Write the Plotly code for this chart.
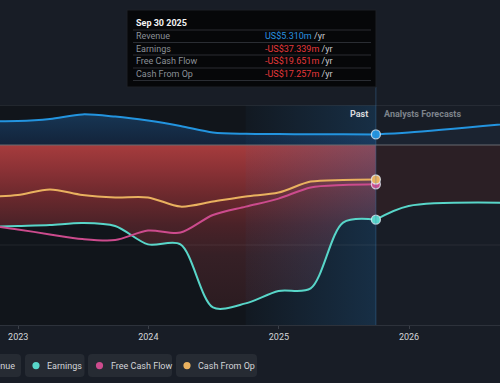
import plotly.graph_objects as go

# ---------------- data (US$ m) ----------------
dates_hist = ['2022-09-30', '2022-12-31', '2023-03-31', '2023-06-30', '2023-09-30',
              '2023-12-31', '2024-03-31', '2024-06-30', '2024-09-30', '2024-12-31',
              '2025-03-31', '2025-06-30', '2025-09-30']
revenue = [12.0, 12.0, 13.0, 15.3, 14.2, 12.2, 9.5, 6.3, 5.6, 5.45, 5.4, 5.35, 5.31]
earnings = [-41.0, -40.5, -40.0, -39.0, -40.5, -49.7, -49.7, -81.2, -79.2, -73.0, -71.7, -38.8, -37.339]
free_cash_flow = [-40.0, -42.2, -44.7, -47.0, -47.5, -42.8, -43.8, -35.0, -30.8, -26.8, -21.2, -20.0, -19.651]
cash_from_op = [-26.0, -25.0, -22.2, -25.0, -26.2, -26.2, -30.8, -28.3, -25.7, -23.8, -18.3, -17.5, -17.257]

dates_fc = ['2025-09-30', '2025-12-31', '2026-12-31']
revenue_fc = [5.31, 6.2, 12.0]
earnings_fc = [-37.339, -30.5, -29.2]

series_names = ['Revenue', 'Earnings', 'Free Cash Flow', 'Cash From Op']
tick_vals = ['2023-01-01', '2024-01-01', '2025-01-01', '2026-01-01']
tick_text = ['2023', '2024', '2025', '2026']
tooltip_title = 'Sep 30 2025'
past_start = '2024-09-30'
past_end = '2025-09-30'

# ---------------- style ----------------
BG = '#181d26'
PAST_BG = '#11151b'
C_REV = '#2394df'
C_EARN = '#58d6c9'
C_FCF = '#cc4b8d'
C_CFO = '#e9b15f'
colors = [C_REV, C_EARN, C_FCF, C_CFO]
FONT = 'Roboto'
Y_MIN, Y_MAX = -90, 20
X_RANGE = ['2022-11-11', '2026-09-13']

W, H = 500, 383
ML, MR, MT, MB = 0, 0, 105, 58
PH = H - MT - MB


def px(x):
    return x / (W - ML - MR)


def py(y):
    return (H - MB - y) / PH


def rrect(x0, y0, x1, y1, r):
    rx, ry = r / W, r / PH
    a, b, c, d = px(x0), py(y1), px(x1), py(y0)  # left, bottom, right, top
    return (f"M {a+rx},{b} L {c-rx},{b} Q {c},{b} {c},{b+ry} L {c},{d-ry} Q {c},{d} {c-rx},{d} "
            f"L {a+rx},{d} Q {a},{d} {a},{d-ry} L {a},{b+ry} Q {a},{b} {a+rx},{b} Z")


fig = go.Figure()
SM = 0.85

# revenue fills
fig.add_trace(go.Scatter(x=dates_hist, y=revenue, mode='lines', line=dict(width=0, shape='spline', smoothing=SM),
                         fill='tozeroy',
                         fillgradient=dict(type='vertical', start=0, stop=15.5,
                                           colorscale=[[0, '#13233a'], [1, '#173654']]),
                         hoverinfo='skip', showlegend=False))
fig.add_trace(go.Scatter(x=dates_fc, y=revenue_fc, mode='lines', line=dict(width=0, shape='spline', smoothing=SM),
                         fill='tozeroy', fillcolor='#1b2330', hoverinfo='skip', showlegend=False))
# earnings (negative) fills
fig.add_trace(go.Scatter(x=dates_hist, y=earnings, mode='lines', line=dict(width=0, shape='spline', smoothing=SM),
                         fill='tozeroy',
                         fillgradient=dict(type='vertical', start=-85, stop=0,
                                           colorscale=[[0, '#2a1b20'], [0.35, '#362026'], [0.53, '#4a2228'],
                                                       [0.706, '#6c292d'], [0.86, '#8c3236'], [1, '#a63c3d']]),
                         hoverinfo='skip', showlegend=False))
fig.add_trace(go.Scatter(x=dates_fc, y=earnings_fc, mode='lines', line=dict(width=0, shape='spline', smoothing=SM),
                         fill='tozeroy', fillcolor='#2b1f25', hoverinfo='skip', showlegend=False))
# past-year highlight overlay
fig.add_trace(go.Scatter(x=[past_start, past_end, past_end, past_start, past_start],
                         y=[Y_MIN, Y_MIN, Y_MAX, Y_MAX, Y_MIN], mode='lines', line=dict(width=0),
                         fill='toself',
                         fillgradient=dict(type='horizontal',
                                           colorscale=[[0, 'rgba(40,120,190,0.04)'], [1, 'rgba(40,120,190,0.26)']]),
                         hoverinfo='skip', showlegend=False))

# lines
hist_vals = [revenue, earnings, free_cash_flow, cash_from_op]
for name, vals, col in zip(series_names, hist_vals, colors):
    fig.add_trace(go.Scatter(x=dates_hist, y=vals, mode='lines', name=name,
                             line=dict(color=col, width=2, shape='spline', smoothing=SM),
                             hoverinfo='skip', showlegend=False))
for vals, col in [(revenue_fc, C_REV), (earnings_fc, C_EARN)]:
    fig.add_trace(go.Scatter(x=dates_fc, y=vals, mode='lines',
                             line=dict(color=col, width=2, shape='spline', smoothing=SM),
                             hoverinfo='skip', showlegend=False))
# end markers
fig.add_trace(go.Scatter(x=[dates_hist[-1]] * 4, y=[v[-1] for v in hist_vals], mode='markers',
                         marker=dict(size=9, color=colors, line=dict(color='rgba(230,240,250,0.75)', width=1.3)),
                         hoverinfo='skip', showlegend=False))

shapes = []
# darker past background
shapes.append(dict(type='rect', xref='x', yref='y', x0='2022-01-01', x1=past_end, y0=Y_MIN, y1=Y_MAX,
                   fillcolor=PAST_BG, line=dict(width=0), layer='below'))
# gridlines / zero line
shapes.append(dict(type='line', xref='paper', yref='y', x0=0, x1=1, y0=Y_MAX, y1=Y_MAX,
                   line=dict(color='#353a43', width=1), layer='above'))
shapes.append(dict(type='line', xref='paper', yref='y', x0=0, x1=1, y0=-50, y1=-50,
                   line=dict(color='rgba(255,255,255,0.07)', width=1), layer='above'))
shapes.append(dict(type='line', xref='paper', yref='y', x0=0, x1=1, y0=0, y1=0,
                   line=dict(color='#686b71', width=1), layer='above'))
# now line
shapes.append(dict(type='line', xref='x', yref='paper', x0=past_end, x1=past_end, y0=0, y1=py(87),
                   line=dict(color='rgba(60,120,175,0.4)', width=1), layer='above'))

annotations = []
# Past / forecast labels
annotations.append(dict(xref='x', yref='paper', x=past_end, y=py(114), xanchor='right', yanchor='middle',
                        xshift=-6, text='<b>Past</b>', showarrow=False,
                        font=dict(family=FONT, size=9, color='#d9dadc')))
annotations.append(dict(xref='x', yref='paper', x=past_end, y=py(114), xanchor='left', yanchor='middle',
                        xshift=6, text='<b>Analysts Forecasts</b>', showarrow=False,
                        font=dict(family=FONT, size=9, color='#7d838b')))

# tooltip
shapes.append(dict(type='rect', xref='paper', yref='paper', x0=px(127), x1=px(376), y0=py(87), y1=py(10),
                   fillcolor='#060709', line=dict(color='#1c2027', width=1), layer='above'))
for yy in [30, 42.5, 55, 68, 80.5]:
    shapes.append(dict(type='line', xref='paper', yref='paper', x0=px(133), x1=px(371), y0=py(yy), y1=py(yy),
                       line=dict(color='#2a2d33', width=1), layer='above'))
annotations.append(dict(xref='paper', yref='paper', x=px(134), y=py(22.5), xanchor='left', yanchor='middle',
                        text=f'<b>{tooltip_title}</b>', showarrow=False,
                        font=dict(family=FONT, size=9, color='#f2f2f2')))


def fmt(v):
    return f"{'-' if v < 0 else ''}US${abs(v):.3f}m"


row_y = [36.3, 48.7, 61.5, 74.2]
for name, vals, yy in zip(series_names, hist_vals, row_y):
    vcol = '#2a93e0' if vals[-1] >= 0 else '#e5383b'
    annotations.append(dict(xref='paper', yref='paper', x=px(134), y=py(yy), xanchor='left', yanchor='middle',
                            text=name, showarrow=False, font=dict(family=FONT, size=9, color='#8b9097')))
    annotations.append(dict(xref='paper', yref='paper', x=px(263), y=py(yy), xanchor='left', yanchor='middle',
                            text=f"<span style='color:{vcol}'>{fmt(vals[-1])}</span> /yr", showarrow=False,
                            font=dict(family=FONT, size=9, color='#c9cbce')))

# custom legend (boxes)
leg_boxes = [(-60, 21), (25, 84.5), (88, 172), (176, 257)]
leg_dots = [-30, 36, 99.5, 187]
for (x0, x1), dx, name, col in zip(leg_boxes, leg_dots, series_names, colors):
    shapes.append(dict(type='path', xref='paper', yref='paper', path=rrect(x0, 354, x1, 377, 4),
                       fillcolor='#262b33', line=dict(width=0), layer='above'))
    shapes.append(dict(type='circle', xref='paper', yref='paper', x0=px(dx - 3.6), x1=px(dx + 3.6),
                       y0=py(365.6 + 3.6), y1=py(365.6 - 3.6), fillcolor=col, line=dict(width=0), layer='above'))
    annotations.append(dict(xref='paper', yref='paper', x=px(dx + 9), y=py(365.6), xanchor='left',
                            yanchor='middle', text=name, showarrow=False,
                            font=dict(family=FONT, size=9, color='#d3d5d8')))

fig.update_layout(
    width=W, height=H, margin=dict(l=ML, r=MR, t=MT, b=MB),
    paper_bgcolor=BG, plot_bgcolor=BG,
    shapes=shapes, annotations=annotations, showlegend=False,
    xaxis=dict(range=X_RANGE, type='date', tickvals=tick_vals, ticktext=tick_text, showgrid=False,
               zeroline=False, showline=True, linecolor='#2d323b', linewidth=1, ticks='outside', ticklen=3,
               tickcolor='#3a3f48', tickfont=dict(family=FONT, size=9, color='#d4d6d9'), fixedrange=True),
    yaxis=dict(range=[Y_MIN, Y_MAX], showgrid=False, zeroline=False, showticklabels=False, fixedrange=True),
    hovermode=False,
)

fig.write_html('out.html', config={'displayModeBar': False},
               post_script="document.body.style.margin='0';document.body.style.overflow='hidden';"
                           "document.body.style.background='#181d26';")
